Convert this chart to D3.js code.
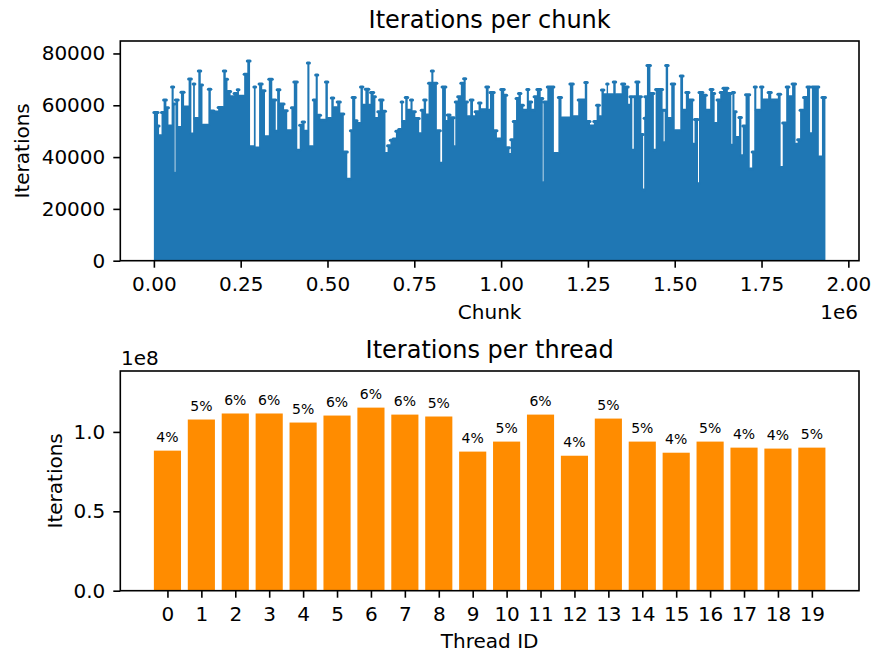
<!DOCTYPE html>
<html>
<head>
<meta charset="utf-8">
<script src="https://cdn.jsdelivr.net/npm/d3@7"></script>
<style>
    body { margin: 0; background: #fff; }
    svg { display: block; font-family: "DejaVu Sans", sans-serif; }
</style>
</head>
<body>
<svg width="876" height="654"></svg>
<script>
// chunk index (in thousands) where each plateau of the trace starts
var chunkStartK = [
    0, 12, 15, 22, 28, 36, 42, 51, 57, 60, 62, 70, 78, 87, 100, 108, 113, 118, 128, 135,
    140, 157, 164, 173, 185, 200, 207, 212, 221, 231, 240, 245, 260, 269, 277, 288, 293, 303, 312, 320,
    331, 341, 351, 355, 363, 375, 384, 396, 403, 413, 420, 427, 434, 442, 448, 459, 466, 472, 480, 494,
    501, 511, 518, 528, 537, 547, 557, 566, 571, 580, 585, 595, 602, 609, 619, 624, 633, 638, 645, 650,
    660, 667, 673, 681, 689, 697, 705, 712, 717, 724, 731, 739, 745, 753, 764, 770, 777, 784, 791, 799,
    805, 815, 825, 830, 841, 845, 853, 865, 868, 875, 884, 892, 898, 903, 911, 919, 925, 935, 942, 956,
    964, 968, 980, 988, 999, 1009, 1016, 1024, 1028, 1035, 1043, 1050, 1057, 1064, 1074, 1080, 1088, 1095, 1103, 1114,
    1120, 1122, 1133, 1152, 1165, 1174, 1198, 1208, 1222, 1241, 1248, 1256, 1267, 1275, 1283, 1289, 1296, 1304, 1308, 1323,
    1330, 1347, 1356, 1366, 1371, 1378, 1382, 1388, 1397, 1404, 1409, 1412, 1414, 1420, 1430, 1440, 1445, 1465, 1468, 1471,
    1474, 1481, 1490, 1500, 1516, 1524, 1532, 1541, 1553, 1557, 1567, 1570, 1581, 1591, 1602, 1610, 1615, 1622, 1631, 1639,
    1653, 1663, 1666, 1672, 1677, 1685, 1692, 1696, 1704, 1716, 1723, 1729, 1735, 1747, 1754, 1769, 1778, 1797, 1805, 1811,
    1821, 1829, 1838, 1848, 1854, 1861, 1871, 1881, 1890, 1895, 1915, 1924, 1934
];
// iterations of each plateau
var chunkIters = [
    57200, 52000, 48200, 57200, 62000, 59000, 52000, 67100, 60500, 33800, 62000, 51400, 65000, 59300, 70100, 48900, 68200, 54900, 73200, 67800,
    52300, 66200, 57800, 57400, 59100, 73200, 70000, 65300, 63300, 64500, 66000, 63500, 72000, 77100, 44000, 67100, 43500, 68200, 65600, 47800,
    70000, 62000, 50000, 66000, 60500, 57900, 50200, 59000, 69000, 42600, 52300, 53500, 50000, 76300, 44000, 62000, 71700, 56100, 54200, 69000,
    54900, 62800, 59000, 61300, 56600, 42000, 31400, 50200, 63000, 54000, 53000, 67100, 60000, 66200, 60000, 64900, 63300, 54900, 57500, 62000,
    57700, 41400, 44400, 46500, 47000, 50000, 50600, 61300, 53700, 63000, 58100, 62000, 57500, 54900, 49000, 58100, 62000, 56200, 68500, 73200,
    68500, 50200, 37600, 67100, 53700, 56200, 55200, 44000, 61300, 63300, 68500, 70200, 61300, 55600, 62000, 55600, 57500, 60900, 58300, 67100,
    58100, 64900, 50200, 47000, 66100, 63900, 43600, 41000, 46700, 53700, 62600, 64500, 60000, 58100, 66100, 61300, 58100, 63300, 66100, 62600,
    30100, 61300, 67100, 41400, 63000, 55100, 68200, 55600, 62000, 68800, 53700, 52000, 53700, 60000, 55600, 65900, 64100, 68200, 64100, 69000,
    64100, 68200, 67100, 60000, 63300, 42600, 63300, 69000, 63300, 48700, 27300, 55000, 63300, 75400, 64500, 42600, 66100, 58100, 45500, 58100,
    75400, 54900, 68200, 50200, 71300, 58100, 64900, 62000, 45000, 54500, 29700, 64900, 63900, 58100, 66100, 64500, 53000, 62000, 64900, 66600,
    64500, 44600, 64900, 57500, 47600, 55300, 40500, 52000, 64100, 35400, 42000, 67100, 58100, 67100, 62000, 64900, 62000, 64300, 36000, 53200,
    67100, 63300, 68200, 45000, 46700, 58100, 63000, 67100, 49000, 67100, 40000, 63000, 0
];
var chunkTicks = [0, 250000, 500000, 750000, 1000000, 1250000, 1500000, 1750000, 2000000];
var chunkYTicks = [0, 20000, 40000, 60000, 80000];

// iterations per thread, in millions
var threadIds = [0, 1, 2, 3, 4, 5, 6, 7, 8, 9, 10, 11, 12, 13, 14, 15, 16, 17, 18, 19];
var threadItersM = [88.2, 107.8, 111.6, 111.6, 105.9, 110.3, 115.3, 110.9, 109.7, 87.6,
                    93.9, 110.9, 85.0, 108.4, 93.9, 86.9, 93.9, 90.1, 89.5, 90.1];
var threadPct = ["4%", "5%", "6%", "6%", "5%", "6%", "6%", "6%", "5%", "4%",
                 "5%", "6%", "4%", "5%", "5%", "4%", "5%", "4%", "4%", "5%"];
var threadYTicks = [0, 0.5e8, 1e8];

window.onload = main;

function main() {
    var svg = d3.select("svg");

    var L = 120.3, R = 859;
    var box1 = { top: 41, bottom: 260.7 };
    var box2 = { top: 371, bottom: 590.7 };

    // ---------- top: iterations per chunk ----------
    var nChunks = chunkStartK[chunkStartK.length - 1] * 1000;
    var x1 = d3.scaleLinear()
        .domain([-0.05 * nChunks, 1.05 * nChunks])
        .range([L, R]);
    var y1 = d3.scaleLinear()
        .domain([0, d3.max(chunkIters) * 1.1])
        .range([box1.bottom, box1.top]);

    var chunkData = chunkStartK.map(function (k, i) {
        return { x: k * 1000, y: chunkIters[i] };
    });

    svg.append("clipPath").attr("id", "clip1")
        .append("rect")
        .attr("x", L).attr("y", box1.top)
        .attr("width", R - L).attr("height", box1.bottom - box1.top);

    var g1 = svg.append("g").attr("clip-path", "url(#clip1)");

    var area = d3.area()
        .curve(d3.curveStepAfter)
        .x(function (d) { return x1(d.x); })
        .y0(y1(0))
        .y1(function (d) { return y1(d.y); });

    g1.append("path")
        .datum(chunkData)
        .attr("d", area)
        .attr("fill", "#1f77b4");

    // thick tops of the plateaus (the line width of the trace), kept apart so narrow dips stay open
    g1.selectAll("line.top")
        .data(chunkData.slice(0, -1))
        .enter()
        .append("line")
        .attr("class", "top")
        .attr("x1", function (d) { return x1(d.x); })
        .attr("x2", function (d, i) { return x1(chunkData[i + 1].x); })
        .attr("y1", function (d) { return y1(d.y); })
        .attr("y2", function (d) { return y1(d.y); })
        .attr("stroke", "#1f77b4")
        .attr("stroke-width", 3)
        .attr("stroke-linecap", "round");

    var xAxis1 = svg.append("g")
        .attr("transform", "translate(0," + box1.bottom + ")")
        .call(d3.axisBottom(x1)
            .tickValues(chunkTicks)
            .tickFormat(function (d) { return (d / 1e6).toFixed(2); })
            .tickSize(7).tickPadding(9.5));
    var yAxis1 = svg.append("g")
        .attr("transform", "translate(" + L + ",0)")
        .call(d3.axisLeft(y1)
            .tickValues(chunkYTicks)
            .tickFormat(d3.format("d"))
            .tickSize(7).tickPadding(8));

    frame(box1);
    styleAxis(xAxis1);
    styleAxis(yAxis1);

    label("Iterations per chunk", (L + R) / 2, 28.3, 24, "middle");
    label("Chunk", (L + R) / 2, 319.3, 20, "middle");
    label("1e6", 858, 319.3, 20, "end");
    svg.append("text")
        .attr("transform", "translate(29.3," + (box1.top + box1.bottom) / 2 + ") rotate(-90)")
        .attr("text-anchor", "middle")
        .attr("font-size", 20)
        .text("Iterations");

    // ---------- bottom: iterations per thread ----------
    var x2 = d3.scaleLinear()
        .domain([-0.4 - 0.99, 19.4 + 0.99])
        .range([L, R]);
    var y2 = d3.scaleLinear()
        .domain([0, d3.max(threadItersM) * 1e6 * 1.2])
        .range([box2.bottom, box2.top]);
    var barW = x2(0.8) - x2(0);

    svg.append("g")
        .selectAll("rect")
        .data(threadItersM)
        .enter()
        .append("rect")
        .attr("x", function (d, i) { return x2(threadIds[i]) - barW / 2; })
        .attr("y", function (d) { return y2(d * 1e6); })
        .attr("width", barW)
        .attr("height", function (d) { return box2.bottom - y2(d * 1e6); })
        .attr("fill", "#ff8c00");

    svg.append("g")
        .selectAll("text")
        .data(threadItersM)
        .enter()
        .append("text")
        .attr("x", function (d, i) { return x2(threadIds[i]); })
        .attr("y", function (d) { return y2(d * 1e6) - 8.7; })
        .attr("text-anchor", "middle")
        .attr("font-size", 14)
        .text(function (d, i) { return threadPct[i]; });

    var xAxis2 = svg.append("g")
        .attr("transform", "translate(0," + box2.bottom + ")")
        .call(d3.axisBottom(x2)
            .tickValues(threadIds)
            .tickFormat(d3.format("d"))
            .tickSize(7).tickPadding(9.5));
    var yAxis2 = svg.append("g")
        .attr("transform", "translate(" + L + ",0)")
        .call(d3.axisLeft(y2)
            .tickValues(threadYTicks)
            .tickFormat(function (d) { return (d / 1e8).toFixed(1); })
            .tickSize(7).tickPadding(8));

    frame(box2);
    styleAxis(xAxis2);
    styleAxis(yAxis2);

    label("Iterations per thread", (L + R) / 2, 358.3, 24, "middle");
    label("Thread ID", (L + R) / 2, 648, 20, "middle");
    label("1e8", 121, 365, 20, "start");
    svg.append("text")
        .attr("transform", "translate(61.5," + (box2.top + box2.bottom) / 2 + ") rotate(-90)")
        .attr("text-anchor", "middle")
        .attr("font-size", 20)
        .text("Iterations");

    function frame(b) {
        svg.append("rect")
            .attr("x", L).attr("y", b.top)
            .attr("width", R - L).attr("height", b.bottom - b.top)
            .attr("fill", "none")
            .attr("stroke", "#000")
            .attr("stroke-width", 1.6);
    }

    function styleAxis(g) {
        g.select(".domain").remove();
        g.attr("font-family", "DejaVu Sans, sans-serif").attr("font-size", 20);
        g.selectAll(".tick line").attr("stroke", "#000").attr("stroke-width", 1.6);
        g.selectAll(".tick text").attr("fill", "#000");
    }

    function label(str, x, y, size, anchor) {
        svg.append("text")
            .attr("x", x).attr("y", y)
            .attr("font-size", size)
            .attr("text-anchor", anchor)
            .text(str);
    }
}
</script>
</body>
</html>
